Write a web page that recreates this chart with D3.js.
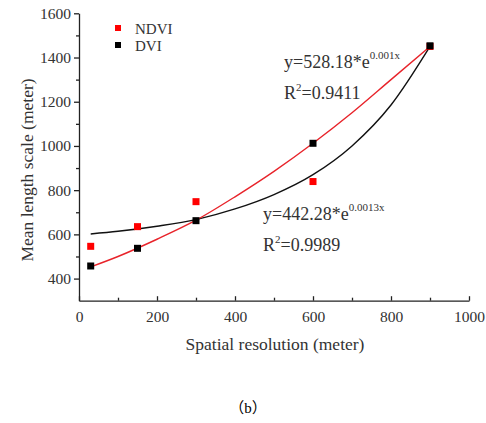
<!DOCTYPE html>
<html>
<head>
<meta charset="utf-8">
<script src="https://cdn.jsdelivr.net/npm/d3@7"></script>
<style>
  body { margin: 0; background: #fff; }
  .axis path, .axis line { stroke: #222; stroke-width: 1.3; }
</style>
</head>
<body>
<div class="chart"></div>
<script>
// measured points
const resolution = [30, 150, 300, 600, 900]
const ndvi = [546, 635, 748, 839, 1450]
const dvi = [457, 537, 662, 1012, 1453]

// fitted curves
const fitX = [30, 100, 200, 300, 400, 500, 600, 700, 800, 900]
const redFit = [453, 500, 578, 664, 770, 885, 1012, 1150, 1300, 1450]
const blackFit = [602, 614, 637, 667, 715, 780, 870, 1000, 1185, 1450]

const xTicks = [0, 200, 400, 600, 800, 1000]
const yTicks = [400, 600, 800, 1000, 1200, 1400, 1600]

const width = 486, height = 423
const serif = '"Liberation Serif", "Times New Roman", serif'

const svg = d3.select('.chart')
    .append('svg')
    .attr('width', width)
    .attr('height', height)

const xScale = d3.scaleLinear().domain([0, 1000]).range([79, 469])
const yScale = d3.scaleLinear().domain([300, 1600]).range([300.7, 13.3])

// minor ticks
svg.append('g')
    .attr('class', 'axis')
    .attr('transform', 'translate(0,300.7)')
    .call(d3.axisBottom(xScale).tickValues(d3.range(100, 1000, 200)).tickSize(-3).tickFormat(''))
    .select('.domain').remove()

svg.append('g')
    .attr('class', 'axis')
    .attr('transform', 'translate(79,0)')
    .call(d3.axisLeft(yScale).tickValues(d3.range(500, 1600, 200)).tickSize(3).tickFormat(''))
    .select('.domain').remove()

// main axes
const xAxis = svg.append('g')
    .attr('class', 'axis')
    .attr('transform', 'translate(0,300.7)')
    .call(d3.axisBottom(xScale).tickValues(xTicks).tickFormat(d3.format('d'))
        .tickSizeInner(-4.5).tickSizeOuter(0).tickPadding(10))

const yAxis = svg.append('g')
    .attr('class', 'axis')
    .attr('transform', 'translate(79,0)')
    .call(d3.axisLeft(yScale).tickValues(yTicks).tickFormat(d3.format('d'))
        .tickSizeInner(5).tickSizeOuter(0).tickPadding(3))

;[xAxis, yAxis].forEach(g => {
    g.attr('font-family', serif).attr('font-size', 15.5)
    g.selectAll('text').attr('fill', '#333')
})

// fit lines
const line = d3.line().curve(d3.curveMonotoneX)

svg.append('path')
    .attr('d', line(fitX.map((x, i) => [xScale(x), yScale(blackFit[i])])))
    .attr('fill', 'none')
    .attr('stroke', '#111')
    .attr('stroke-width', 1.4)

svg.append('path')
    .attr('d', line(fitX.map((x, i) => [xScale(x), yScale(redFit[i])])))
    .attr('fill', 'none')
    .attr('stroke', '#e8232a')
    .attr('stroke-width', 1.4)

// points
const sq = 7
svg.selectAll('.ndvi')
    .data(resolution)
    .join('rect')
    .attr('x', (d, i) => xScale(d) - sq / 2)
    .attr('y', (d, i) => yScale(ndvi[i]) - sq / 2)
    .attr('width', sq)
    .attr('height', sq)
    .attr('fill', '#ff0000')

svg.selectAll('.dvi')
    .data(resolution)
    .join('rect')
    .attr('x', (d, i) => xScale(d) - sq / 2)
    .attr('y', (d, i) => yScale(dvi[i]) - sq / 2)
    .attr('width', sq)
    .attr('height', sq)
    .attr('fill', '#000')

const addText = (x, y, size) => svg.append('text')
    .attr('x', x).attr('y', y)
    .attr('font-family', serif)
    .attr('font-size', size)
    .attr('fill', '#333')

// legend
const legend = [['NDVI', '#ff0000'], ['DVI', '#000']]
legend.forEach(([name, color], i) => {
    svg.append('rect')
        .attr('x', 115).attr('y', 25 + i * 17)
        .attr('width', 6).attr('height', 6)
        .attr('fill', color)
    addText(135, 34 + i * 17, 15).text(name)
})

// equations
const eq = (x, y, a, b, r2) => {
    const t = addText(x, y, 18)
    t.append('tspan').text(`y=${a}*e`)
    t.append('tspan').attr('dy', -9).attr('font-size', 11).text(b)
    const r = addText(x, y + 31, 18)
    r.append('tspan').text('R')
    r.append('tspan').attr('dy', -8).attr('font-size', 11).text('2')
    r.append('tspan').attr('dy', 8).text(`=${r2}`)
}
eq(284, 68, '528.18', '0.001x', '0.9411')
eq(263, 220, '442.28', '0.0013x', '0.9989')

// axis titles
addText(275, 350, 17.5)
    .attr('text-anchor', 'middle')
    .text('Spatial resolution (meter)')

addText(0, 0, 17.5)
    .attr('transform', 'translate(33,170) rotate(-90)')
    .attr('text-anchor', 'middle')
    .text('Mean length scale (meter)')

const cap = addText(248, 413, 15)
    .attr('text-anchor', 'middle')
    .attr('fill', '#000')
cap.append('tspan').attr('font-family', '"Noto Sans CJK SC"').text('（')
cap.append('tspan').text('b')
cap.append('tspan').attr('font-family', '"Noto Sans CJK SC"').text('）')
</script>
</body>
</html>
